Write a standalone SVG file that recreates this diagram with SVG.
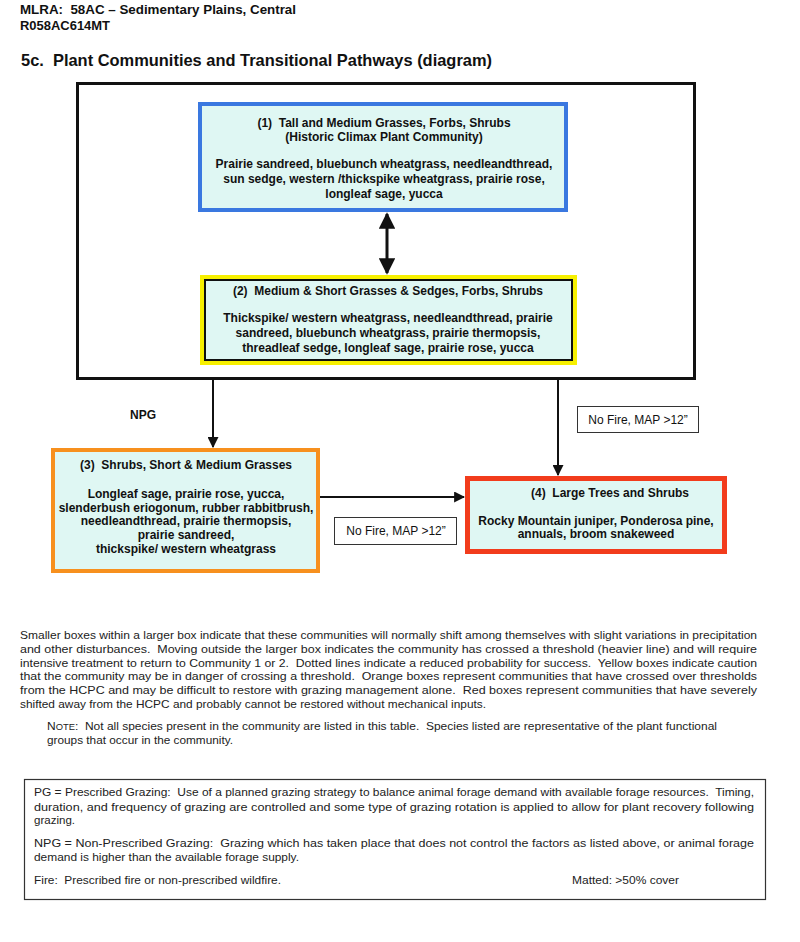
<svg xmlns="http://www.w3.org/2000/svg" width="800" height="942" viewBox="0 0 800 942">
<defs>
<style>
.h{font-family:"Liberation Sans",Arial,sans-serif;font-weight:bold;fill:#111}
.b{font-family:"Liberation Sans",Arial,sans-serif;font-weight:bold;font-size:12px;fill:#111;text-anchor:middle}
.lbl{font-family:"Liberation Sans",Arial,sans-serif;font-size:12px;fill:#111;text-anchor:middle}
.n{font-family:"Liberation Sans",Arial,sans-serif;font-size:11.5px;fill:#222}
.fill{fill:#dff7f3}
.conn{stroke:#111;stroke-width:2;fill:none}
</style>
<marker id="ah" viewBox="0 0 10 10" refX="9" refY="5" markerWidth="5.5" markerHeight="5.5" orient="auto-start-reverse" markerUnits="strokeWidth">
<path d="M0,0 L10,5 L0,10 z" fill="#111"/>
</marker>
</defs>
<rect width="800" height="942" fill="#ffffff"/>

<g id="header">
<text class="h" x="20" y="14" font-size="12.5" textLength="276" lengthAdjust="spacingAndGlyphs">MLRA:&#160; 58AC – Sedimentary Plains, Central</text>
<text class="h" x="20" y="30" font-size="12.5" textLength="90" lengthAdjust="spacingAndGlyphs">R058AC614MT</text>
<text class="h" x="21" y="66" font-size="17" textLength="471" lengthAdjust="spacingAndGlyphs">5c.&#160; Plant Communities and Transitional Pathways (diagram)</text>
</g>

<g id="threshold-box">
<rect x="77.5" y="83.5" width="617" height="295" fill="none" stroke="#111" stroke-width="3"/>
</g>

<g id="node1">
<rect class="fill" x="200" y="104" width="366" height="106" stroke="#3a78e0" stroke-width="4"/>
<text class="b" x="384" y="127">(1)&#160; Tall and Medium Grasses, Forbs, Shrubs</text>
<text class="b" x="384" y="141">(Historic Climax Plant Community)</text>
<text class="b" x="384" y="168">Prairie sandreed, bluebunch wheatgrass, needleandthread,</text>
<text class="b" x="384" y="183">sun sedge, western /thickspike wheatgrass, prairie rose,</text>
<text class="b" x="384" y="198">longleaf sage, yucca</text>
</g>

<g id="node2">
<rect x="200" y="275" width="377" height="90" fill="#f7f000"/>
<rect class="fill" x="205" y="280" width="367" height="80" stroke="#111" stroke-width="2"/>
<text class="b" x="388" y="295">(2)&#160; Medium &amp; Short Grasses &amp; Sedges, Forbs, Shrubs</text>
<text class="b" x="388" y="322">Thickspike/ western wheatgrass, needleandthread, prairie</text>
<text class="b" x="388" y="337">sandreed, bluebunch wheatgrass, prairie thermopsis,</text>
<text class="b" x="388" y="352">threadleaf sedge, longleaf sage, prairie rose, yucca</text>
</g>

<g id="node3">
<rect class="fill" x="53" y="450" width="265" height="121" stroke="#f7901e" stroke-width="4"/>
<text class="b" x="186" y="469">(3)&#160; Shrubs, Short &amp; Medium Grasses</text>
<text class="b" x="186" y="498">Longleaf sage, prairie rose, yucca,</text>
<text class="b" x="186" y="511.5">slenderbush eriogonum, rubber rabbitbrush,</text>
<text class="b" x="186" y="525">needleandthread, prairie thermopsis,</text>
<text class="b" x="186" y="539">prairie sandreed,</text>
<text class="b" x="186" y="553">thickspike/ western wheatgrass</text>
</g>

<g id="node4">
<rect class="fill" x="467.5" y="478.5" width="257" height="73" stroke="#f23c1c" stroke-width="5"/>
<text class="b" x="610" y="497">(4)&#160; Large Trees and Shrubs</text>
<text class="b" x="596" y="525">Rocky Mountain juniper, Ponderosa pine,</text>
<text class="b" x="596" y="538">annuals, broom snakeweed</text>
</g>

<g id="connectors">
<line x1="387" y1="214" x2="387" y2="273" stroke="#111" stroke-width="3" marker-start="url(#ah)" marker-end="url(#ah)"/>
<line class="conn" x1="213" y1="380" x2="213" y2="447" marker-end="url(#ah)"/>
<line class="conn" x1="558" y1="380" x2="558" y2="475" marker-end="url(#ah)"/>
<line class="conn" x1="320" y1="497" x2="464" y2="497" marker-end="url(#ah)"/>
</g>

<g id="labels">
<text class="b" x="143" y="419">NPG</text>
<rect x="577.5" y="406.5" width="121" height="26" fill="#fff" stroke="#333" stroke-width="1"/>
<text class="lbl" x="638" y="424">No Fire, MAP &gt;12”</text>
<rect x="334.5" y="517.5" width="122" height="27" fill="#fff" stroke="#333" stroke-width="1"/>
<text class="lbl" x="396" y="535">No Fire, MAP &gt;12”</text>
</g>

<g id="legend-text">
<text class="n" x="20" y="639" textLength="737" lengthAdjust="spacingAndGlyphs">Smaller boxes within a larger box indicate that these communities will normally shift among themselves with slight variations in precipitation</text>
<text class="n" x="20" y="653" textLength="737" lengthAdjust="spacingAndGlyphs">and other disturbances.&#160; Moving outside the larger box indicates the community has crossed a threshold (heavier line) and will require</text>
<text class="n" x="20" y="667" textLength="737" lengthAdjust="spacingAndGlyphs">intensive treatment to return to Community 1 or 2.&#160; Dotted lines indicate a reduced probability for success.&#160; Yellow boxes indicate caution</text>
<text class="n" x="20" y="680" textLength="737" lengthAdjust="spacingAndGlyphs">that the community may be in danger of crossing a threshold.&#160; Orange boxes represent communities that have crossed over thresholds</text>
<text class="n" x="20" y="694" textLength="737" lengthAdjust="spacingAndGlyphs">from the HCPC and may be difficult to restore with grazing management alone.&#160; Red boxes represent communities that have severely</text>
<text class="n" x="20" y="708" textLength="466" lengthAdjust="spacingAndGlyphs">shifted away from the HCPC and probably cannot be restored without mechanical inputs.</text>
<text class="n" x="47" y="729.5" textLength="670" lengthAdjust="spacingAndGlyphs">N<tspan font-size="9">OTE</tspan>:&#160; Not all species present in the community are listed in this table.&#160; Species listed are representative of the plant functional</text>
<text class="n" x="47" y="743.5" textLength="186" lengthAdjust="spacingAndGlyphs">groups that occur in the community.</text>
</g>

<g id="definitions">
<rect x="24.5" y="779.5" width="741" height="120" fill="#fff" stroke="#333" stroke-width="1.2"/>
<text class="n" x="34" y="796" textLength="720" lengthAdjust="spacingAndGlyphs">PG = Prescribed Grazing:&#160; Use of a planned grazing strategy to balance animal forage demand with available forage resources.&#160; Timing,</text>
<text class="n" x="34" y="811" textLength="720" lengthAdjust="spacingAndGlyphs">duration, and frequency of grazing are controlled and some type of grazing rotation is applied to allow for plant recovery following</text>
<text class="n" x="34" y="824" textLength="41" lengthAdjust="spacingAndGlyphs">grazing.</text>
<text class="n" x="34" y="847" textLength="720" lengthAdjust="spacingAndGlyphs">NPG = Non-Prescribed Grazing:&#160; Grazing which has taken place that does not control the factors as listed above, or animal forage</text>
<text class="n" x="34" y="860.5" textLength="265" lengthAdjust="spacingAndGlyphs">demand is higher than the available forage supply.</text>
<text class="n" x="34" y="884" textLength="247" lengthAdjust="spacingAndGlyphs">Fire:&#160; Prescribed fire or non-prescribed wildfire.</text>
<text class="n" x="572" y="884" textLength="107" lengthAdjust="spacingAndGlyphs">Matted: &gt;50% cover</text>
</g>
</svg>
